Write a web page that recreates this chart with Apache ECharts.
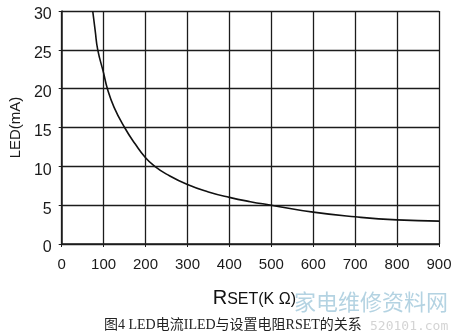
<!DOCTYPE html>
<html>
<head>
<meta charset="utf-8">
<script src="https://cdn.jsdelivr.net/npm/echarts@6/dist/echarts.min.js"></script>
<style>
  html, body { margin: 0; padding: 0; background: #fff; }
  #led_chart { width: 460px; height: 335px; }
</style>
</head>
<body>
<div id="led_chart"></div>
<script>
// RSET (KΩ) 与 LED 电流 (mA)
const rsetList = [74, 80, 86, 100, 109, 125, 150, 175, 200, 222, 250, 300, 350, 400, 450, 500, 600, 700, 800, 900];
const ledList = [30, 27.4, 25, 22, 20, 17.6, 15, 12.9, 11.1, 10, 9.0, 7.65, 6.7, 6.0, 5.45, 5.0, 4.1, 3.5, 3.1, 2.95];
const xTicks = [0, 100, 200, 300, 400, 500, 600, 700, 800, 900];
const yTicks = [0, 5, 10, 15, 20, 25, 30];
const captionText = '图4 LED电流ILED与设置电阻RSET的关系';

const lineColor = '#1c1c1c';
const myChart = echarts.init(document.getElementById('led_chart'));

const option = {
  animation: false,
  grid: { left: 61, right: 21, top: 11, bottom: 91 },
  xAxis: {
    type: 'value',
    min: xTicks[0],
    max: xTicks[xTicks.length - 1],
    interval: 100,
    name: '{r|R}{s|SET(K Ω)}',
    nameLocation: 'middle',
    nameGap: 44,
    nameTextStyle: {
      padding: [0, 0, 0, 8],
      rich: {
        r: { fontFamily: 'Liberation Sans', fontSize: 20, color: '#111', verticalAlign: 'bottom' },
        s: { fontFamily: 'Liberation Sans', fontSize: 16, color: '#111', verticalAlign: 'bottom' }
      }
    },
    axisLine: { show: true, lineStyle: { color: lineColor, width: 1.5 } },
    axisTick: { show: true, length: 3, lineStyle: { color: lineColor } },
    axisLabel: { fontFamily: 'Liberation Sans', fontSize: 15, color: '#1a1a1a', margin: 13 },
    splitLine: { show: true, lineStyle: { color: lineColor, width: 1.3 } }
  },
  yAxis: {
    type: 'value',
    min: yTicks[0],
    max: yTicks[yTicks.length - 1],
    interval: 5,
    name: 'LED(mA)',
    nameLocation: 'middle',
    nameGap: 38,
    nameTextStyle: { fontFamily: 'Liberation Sans', fontSize: 15, color: '#1a1a1a' },
    axisLine: { show: true, lineStyle: { color: lineColor, width: 1.5 } },
    axisTick: { show: true, length: 3, lineStyle: { color: lineColor } },
    axisLabel: {
      fontFamily: 'Liberation Sans', fontSize: 16, color: '#1a1a1a', margin: 10,
      verticalAlign: 'top', lineHeight: 8
    },
    splitLine: { show: true, lineStyle: { color: lineColor, width: 1.3 } }
  },
  series: [{
    type: 'line',
    data: rsetList.map((r, i) => [r, ledList[i]]),
    smooth: true,
    showSymbol: false,
    lineStyle: { color: '#111', width: 1.6 }
  }],
  graphic: [
    {
      type: 'text',
      left: 104,
      top: 318,
      style: { text: captionText, font: '14px "Liberation Serif", "Noto Sans CJK SC"', fill: '#222' }
    },
    {
      type: 'text',
      left: 294,
      top: 291,
      style: { text: '家电维修资料网', font: '22px "Noto Sans CJK SC"', fill: '#b4d3e2' }
    },
    {
      type: 'text',
      left: 370,
      top: 320,
      style: { text: '520101.com', font: '13px "DejaVu Sans Mono"', fill: '#d4d4d4' }
    }
  ]
};

myChart.setOption(option);
</script>
</body>
</html>
